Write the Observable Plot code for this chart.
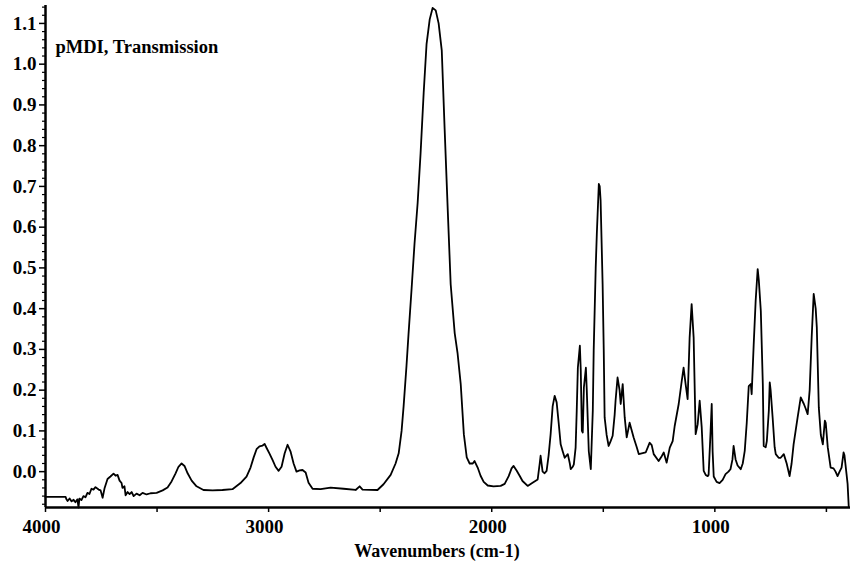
<!DOCTYPE html>
<html>
<head>
<meta charset="utf-8">
<script src="https://cdn.jsdelivr.net/npm/d3@7"></script>
<script src="https://cdn.jsdelivr.net/npm/@observablehq/plot@0.6"></script>
<style>
  html, body { margin: 0; padding: 0; background: #fff; }
</style>
</head>
<body>
<div id="chart"></div>
<script>
// Spectrum: wavenumber (cm-1) and absorbance
const wavenumber = [
  4000, 3955, 3910, 3906, 3901, 3892, 3883, 3874, 3866, 3857, 3852, 3848, 3839, 3830, 3821, 3812,
  3803, 3794, 3785, 3776, 3762, 3753, 3744, 3735, 3722, 3709, 3695, 3686, 3677, 3668, 3659, 3655,
  3646, 3641, 3632, 3623, 3614, 3605, 3592, 3578, 3565, 3547, 3529, 3502, 3475, 3453, 3435, 3417,
  3404, 3390, 3377, 3363, 3345, 3323, 3292, 3251, 3207, 3162, 3126, 3099, 3081, 3067, 3054, 3041,
  3027, 3018, 3009, 2996, 2982, 2969, 2955, 2942, 2928, 2915, 2902, 2888, 2875, 2861, 2848, 2834,
  2821, 2803, 2767, 2722, 2664, 2610, 2592, 2579, 2512, 2485, 2453, 2431, 2417, 2404, 2395, 2382,
  2373, 2359, 2346, 2332, 2319, 2305, 2292, 2278, 2265, 2251, 2238, 2224, 2211, 2197, 2184, 2166,
  2153, 2139, 2125, 2112, 2099, 2085, 2077, 2063, 2050, 2036, 2018, 1992, 1960, 1942, 1924, 1911,
  1902, 1888, 1875, 1862, 1839, 1817, 1794, 1785, 1781, 1772, 1763, 1754, 1745, 1736, 1727, 1718,
  1709, 1700, 1691, 1682, 1673, 1664, 1659, 1650, 1646, 1637, 1632, 1624, 1619, 1614, 1605, 1601,
  1596, 1592, 1587, 1578, 1574, 1565, 1556, 1547, 1543, 1534, 1529, 1520, 1516, 1512, 1503, 1498,
  1494, 1485, 1476, 1467, 1458, 1449, 1445, 1436, 1427, 1422, 1413, 1404, 1395, 1382, 1364, 1350,
  1341, 1310, 1292, 1283, 1274, 1252, 1238, 1229, 1216, 1202, 1189, 1180, 1162, 1149, 1140, 1131,
  1122, 1113, 1104, 1095, 1086, 1077, 1068, 1059, 1050, 1041, 1032, 1028, 1019, 1014, 1010, 1005,
  992, 979, 965, 952, 939, 930, 921, 916, 907, 898, 884, 875, 866, 857, 848, 839,
  835, 826, 817, 808, 803, 794, 785, 781, 772, 767, 758, 754, 750, 741, 732, 727,
  714, 705, 691, 678, 665, 656, 647, 638, 629, 615, 601, 593, 584, 575, 566, 557,
  548, 543, 534, 525, 516, 507, 503, 494, 481, 468, 459, 450, 441, 432, 423, 419,
  410, 405, 400
];
const absorbance = [
  -0.062, -0.062, -0.062, -0.068, -0.072, -0.066, -0.073, -0.069, -0.075, -0.068, -0.088, -0.066, -0.070, -0.060, -0.063, -0.052,
  -0.055, -0.042, -0.044, -0.038, -0.044, -0.046, -0.064, -0.040, -0.018, -0.012, -0.005, -0.010, -0.008, -0.022, -0.028, -0.040,
  -0.036, -0.058, -0.050, -0.055, -0.050, -0.060, -0.054, -0.058, -0.052, -0.056, -0.053, -0.052, -0.046, -0.039, -0.024, -0.004,
  0.012, 0.020, 0.014, -0.004, -0.022, -0.036, -0.045, -0.046, -0.045, -0.043, -0.028, -0.012, 0.010, 0.035, 0.055, 0.062,
  0.064, 0.068, 0.058, 0.044, 0.028, 0.012, 0.002, 0.012, 0.045, 0.066, 0.050, 0.020, 0.000, 0.003, 0.004, -0.002,
  -0.027, -0.042, -0.043, -0.039, -0.042, -0.045, -0.036, -0.044, -0.045, -0.031, -0.008, 0.020, 0.045, 0.100, 0.160, 0.260,
  0.337, 0.450, 0.560, 0.660, 0.780, 0.930, 1.050, 1.110, 1.138, 1.132, 1.100, 1.034, 0.840, 0.640, 0.460, 0.340,
  0.290, 0.215, 0.092, 0.035, 0.020, 0.020, 0.026, 0.010, -0.010, -0.025, -0.034, -0.036, -0.035, -0.030, -0.011, 0.008,
  0.014, 0.002, -0.010, -0.023, -0.035, -0.027, -0.019, 0.020, 0.039, 0.000, -0.004, 0.002, 0.040, 0.092, 0.160, 0.186,
  0.170, 0.120, 0.067, 0.050, 0.034, 0.040, 0.043, 0.020, 0.006, 0.012, 0.018, 0.059, 0.150, 0.255, 0.309, 0.250,
  0.100, 0.096, 0.206, 0.255, 0.200, 0.050, 0.006, 0.150, 0.297, 0.500, 0.583, 0.706, 0.700, 0.665, 0.460, 0.300,
  0.133, 0.090, 0.063, 0.075, 0.088, 0.140, 0.174, 0.231, 0.200, 0.166, 0.215, 0.133, 0.084, 0.120, 0.084, 0.060,
  0.043, 0.047, 0.071, 0.065, 0.043, 0.026, 0.038, 0.047, 0.022, 0.059, 0.075, 0.112, 0.166, 0.220, 0.255, 0.215,
  0.178, 0.329, 0.411, 0.329, 0.092, 0.116, 0.174, 0.110, 0.002, -0.008, -0.011, -0.008, 0.100, 0.166, 0.050, -0.012,
  -0.025, -0.028, -0.020, -0.006, 0.000, 0.006, 0.030, 0.063, 0.030, 0.015, 0.006, 0.020, 0.051, 0.120, 0.210, 0.215,
  0.190, 0.310, 0.420, 0.497, 0.470, 0.395, 0.215, 0.063, 0.060, 0.075, 0.150, 0.219, 0.200, 0.133, 0.060, 0.043,
  0.034, 0.034, 0.043, 0.020, -0.011, 0.020, 0.067, 0.100, 0.133, 0.182, 0.166, 0.155, 0.141, 0.200, 0.330, 0.436,
  0.400, 0.354, 0.157, 0.090, 0.067, 0.125, 0.120, 0.060, 0.010, 0.008, 0.000, -0.011, 0.000, 0.010, 0.047, 0.040,
  -0.005, -0.030, -0.085
];

// Axis ticks and labels
const yMajorTicks = [0.0, 0.1, 0.2, 0.3, 0.4, 0.5, 0.6, 0.7, 0.8, 0.9, 1.0, 1.1];
const yMinorTicks = d3.range(-4, 58).map(i => i * 0.02).filter(v => v < -1e-6 || Math.abs(v * 10 - Math.round(v * 10)) > 1e-6);
const xTicks = [4000, 3500, 3000, 2500, 2000, 1500, 1000, 500];
const xTickLabels = [4000, 3000, 2000, 1000];
const titleText = "pMDI, Transmission";
const xAxisTitle = "Wavenumbers (cm-1)";

const data = wavenumber.map((w, i) => ({wn: w, a: absorbance[i]}));

const font = "'Liberation Serif', 'Times New Roman', serif";

const chart = Plot.plot({
  width: 851,
  height: 564,
  marginLeft: 45,
  marginRight: 1,
  marginTop: 5,
  marginBottom: 57,
  x: {domain: [4000, 392]},
  y: {domain: [-0.088, 1.144]},
  style: {fontFamily: font, fontWeight: "bold", color: "#000", background: "#fff", overflow: "visible"},
  marks: [
    Plot.axisY(yMinorTicks, {tickSize: 3, text: null, label: null, strokeWidth: 1.2}),
    Plot.axisY(yMajorTicks, {tickSize: 6, tickPadding: 3, tickFormat: d3.format(".1f"), fontSize: 19, label: null, strokeWidth: 1.5}),
    Plot.axisX(xTicks, {tickSize: 5, text: null, label: null, strokeWidth: 1.5}),
    Plot.axisX(xTickLabels, {tickSize: 0, tickPadding: 12, tickFormat: d3.format("d"), fontSize: 19, label: null, dx: -4}),
    Plot.ruleX([4000], {stroke: "#000", strokeWidth: 2.5}),
    Plot.ruleY([-0.088], {stroke: "#000", strokeWidth: 2.5}),
    Plot.line(data, {x: "wn", y: "a", stroke: "#000", strokeWidth: 1.8, strokeLinejoin: "round"}),
    Plot.text([titleText], {frameAnchor: "top-left", lineAnchor: "bottom", dx: 10, dy: 47, fontSize: 18.5, fill: "#000"}),
    Plot.text([xAxisTitle], {frameAnchor: "bottom", lineAnchor: "bottom", dx: -11, dy: 49, fontSize: 18, fill: "#000"})
  ]
});

document.getElementById("chart").appendChild(chart);
</script>
</body>
</html>
